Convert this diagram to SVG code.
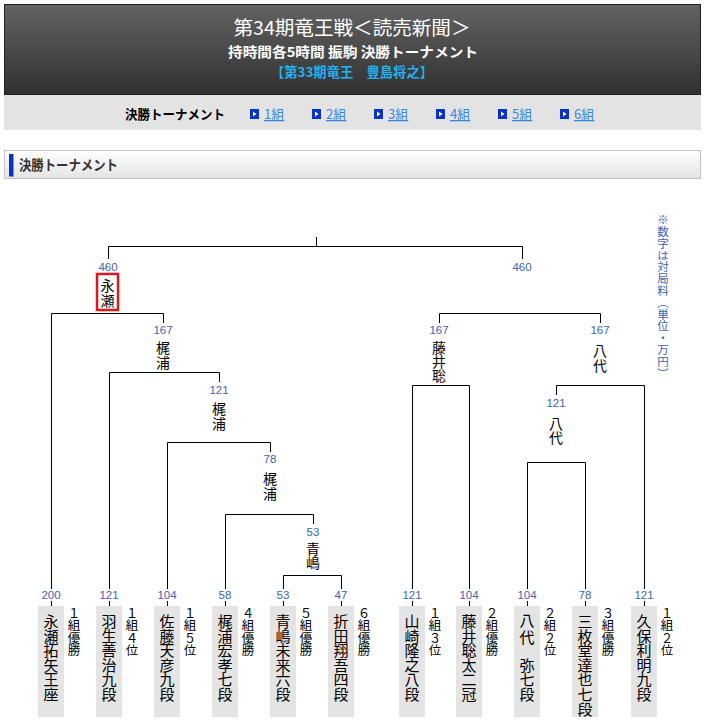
<svg xmlns="http://www.w3.org/2000/svg" width="705" height="726" viewBox="0 0 705 726">
<defs>
<linearGradient id="hd" x1="0" y1="0" x2="0" y2="1"><stop offset="0" stop-color="#636363"/><stop offset="1" stop-color="#303030"/></linearGradient>
<linearGradient id="sh" x1="0" y1="0" x2="0" y2="1"><stop offset="0" stop-color="#ffffff"/><stop offset="1" stop-color="#e4e4e4"/></linearGradient>
</defs>
<style>
.jp{font-family:"Noto Sans CJK JP","Noto Sans CJK SC",sans-serif}
.num{font-family:"Liberation Sans",Arial,sans-serif;font-size:11.5px;fill:#4262b8;text-anchor:middle;dominant-baseline:central}
.ln{fill:none;stroke:#000;stroke-width:1}
.nm{font-family:"Noto Sans CJK JP",sans-serif;font-size:15px;fill:#000;text-anchor:middle;dominant-baseline:central}
.bn{font-family:"Noto Sans CJK JP",sans-serif;font-size:14px;fill:#000;text-anchor:middle;dominant-baseline:central}
.lb{font-family:"Noto Sans CJK JP",sans-serif;font-size:12.5px;fill:#000;text-anchor:middle;dominant-baseline:central}
.box{fill:#e4e4e4}
.nav{font-family:"Noto Sans CJK JP",sans-serif;font-size:13px;fill:#3a86dc;text-decoration:underline}
.ico{fill:#0a32c8}
</style>
<rect width="705" height="726" fill="#fff"/>
<g id="header">
<rect x="4.5" y="4.5" width="696" height="90" fill="url(#hd)" stroke="#222"/>
<text x="352" y="35" class="jp" font-size="19" fill="#fff" text-anchor="middle" textLength="237" lengthAdjust="spacingAndGlyphs">第34期竜王戦＜読売新聞＞</text>
<text x="353" y="57" class="jp" font-size="13.5" font-weight="bold" fill="#fff" text-anchor="middle" textLength="250" lengthAdjust="spacingAndGlyphs">持時間各5時間 振駒 決勝トーナメント</text>
<text x="352" y="77" class="jp" font-size="13.5" font-weight="bold" fill="#22b2f2" text-anchor="middle" textLength="162" lengthAdjust="spacingAndGlyphs">【第33期竜王　豊島将之】</text>
<rect x="4" y="95" width="697" height="35" fill="#e3e3e3"/>
<text x="175" y="119" class="jp" font-size="13" font-weight="bold" fill="#000" text-anchor="middle" textLength="100" lengthAdjust="spacingAndGlyphs">決勝トーナメント</text>
<g id="navlinks">
<rect class="ico" x="250" y="109" width="9" height="10"/><path d="M253 111.5 L256.5 114 L253 116.5Z" fill="#fff"/><text class="nav" x="264" y="119">1組</text>
<rect class="ico" x="312" y="109" width="9" height="10"/><path d="M315 111.5 L318.5 114 L315 116.5Z" fill="#fff"/><text class="nav" x="326" y="119">2組</text>
<rect class="ico" x="374" y="109" width="9" height="10"/><path d="M377 111.5 L380.5 114 L377 116.5Z" fill="#fff"/><text class="nav" x="388" y="119">3組</text>
<rect class="ico" x="436" y="109" width="9" height="10"/><path d="M439 111.5 L442.5 114 L439 116.5Z" fill="#fff"/><text class="nav" x="450" y="119">4組</text>
<rect class="ico" x="498" y="109" width="9" height="10"/><path d="M501 111.5 L504.5 114 L501 116.5Z" fill="#fff"/><text class="nav" x="512" y="119">5組</text>
<rect class="ico" x="560" y="109" width="9" height="10"/><path d="M563 111.5 L566.5 114 L563 116.5Z" fill="#fff"/><text class="nav" x="574" y="119">6組</text>
</g>
</g>
<g id="section">
<rect x="4.5" y="150.5" width="696" height="28" fill="url(#sh)" stroke="#c4c4c4"/>
<rect x="9" y="154" width="4.5" height="22.5" fill="#0a32c8"/>
<text x="19" y="170" class="jp" font-size="14" font-weight="bold" fill="#333" textLength="99" lengthAdjust="spacingAndGlyphs">決勝トーナメント</text>
</g>
<text id="note" x="663" y="214" class="jp" font-size="11.5" fill="#4262b8" style="writing-mode:vertical-rl" letter-spacing="0.3">※数字は対局料（単位・万円）</text>
<g id="connectors">
<path class="ln" d="M316.5 237V246.5M108.5 246.5H522.5M108.5 246.5V259M522.5 246.5V259"/>
<path class="ln" d="M51.5 589V313.5H163.5V323M109.5 589V372.5H219.5V382M167.5 589V442.5H270.5V452M225.5 589V514.5H313.5V524M283.5 589V575.5H341.5V589"/>
<path class="ln" d="M439.5 323V313.5H600.5V323M412.5 589V385.5H469.5V589M556.5 395V385.5H644.5V589M527.5 589V462.5H585.5V589"/>
<path class="ln" d="M51.5 601V606M109.5 601V606M167.5 601V606M225.5 601V606M283.5 601V606M341.5 601V606M412.5 601V606M469.5 601V606M527.5 601V606M585.5 601V606M644.5 601V606"/>
</g>
<g id="bracket-labels">
<text class="num" x="108" y="267">460</text>
<rect x="97" y="274" width="21" height="36" fill="#fff" stroke="#e8141c" stroke-width="2.5"/>
<text class="bn" x="107.5"><tspan x="107.5" y="284.5">永</tspan><tspan x="107.5" y="300">瀬</tspan></text>
<text class="num" x="522" y="267">460</text>
<text class="num" x="163" y="330">167</text>
<text class="bn"><tspan x="163" y="347">梶</tspan><tspan x="163" y="362">浦</tspan></text>
<text class="num" x="219" y="390">121</text>
<text class="bn"><tspan x="219" y="408">梶</tspan><tspan x="219" y="423">浦</tspan></text>
<text class="num" x="270" y="459">78</text>
<text class="bn"><tspan x="270" y="478">梶</tspan><tspan x="270" y="493">浦</tspan></text>
<text class="num" x="313" y="532">53</text>
<text class="bn"><tspan x="313" y="547.5">青</tspan><tspan x="313" y="562">嶋</tspan></text>
<text class="num" x="439" y="330">167</text>
<text class="bn"><tspan x="439" y="347">藤</tspan><tspan x="439" y="361">井</tspan><tspan x="439" y="375">聡</tspan></text>
<text class="num" x="600" y="330">167</text>
<text class="bn"><tspan x="600" y="350">八</tspan><tspan x="600" y="365">代</tspan></text>
<text class="num" x="556" y="403">121</text>
<text class="bn"><tspan x="556" y="423">八</tspan><tspan x="556" y="437">代</tspan></text>
</g>
<g id="p1"><text class="num" x="51" y="595">200</text><rect class="box" x="38" y="606" width="26" height="111"/>
<text class="nm"><tspan x="51" y="620">永</tspan><tspan x="51" y="634.6">瀬</tspan><tspan x="51" y="649.2">拓</tspan><tspan x="51" y="663.8">矢</tspan><tspan x="51" y="678.4">王</tspan><tspan x="51" y="693">座</tspan></text>
<text class="lb"><tspan x="74" y="611.5">１</tspan><tspan x="74" y="624">組</tspan><tspan x="74" y="636.5">優</tspan><tspan x="74" y="649">勝</tspan></text></g>
<g id="p2"><text class="num" x="109" y="595">121</text><rect class="box" x="96" y="606" width="26" height="111"/>
<text class="nm"><tspan x="109" y="620">羽</tspan><tspan x="109" y="634.6">生</tspan><tspan x="109" y="649.2">善</tspan><tspan x="109" y="663.8">治</tspan><tspan x="109" y="678.4">九</tspan><tspan x="109" y="693">段</tspan></text>
<text class="lb"><tspan x="132" y="611.5">１</tspan><tspan x="132" y="624">組</tspan><tspan x="132" y="636.5">４</tspan><tspan x="132" y="649">位</tspan></text></g>
<g id="p3"><text class="num" x="167" y="595">104</text><rect class="box" x="154" y="606" width="26" height="111"/>
<text class="nm"><tspan x="167" y="620">佐</tspan><tspan x="167" y="634.6">藤</tspan><tspan x="167" y="649.2">天</tspan><tspan x="167" y="663.8">彦</tspan><tspan x="167" y="678.4">九</tspan><tspan x="167" y="693">段</tspan></text>
<text class="lb"><tspan x="190" y="611.5">１</tspan><tspan x="190" y="624">組</tspan><tspan x="190" y="636.5">５</tspan><tspan x="190" y="649">位</tspan></text></g>
<g id="p4"><text class="num" x="225" y="595">58</text><rect class="box" x="212" y="606" width="26" height="111"/>
<text class="nm"><tspan x="225" y="620">梶</tspan><tspan x="225" y="634.6">浦</tspan><tspan x="225" y="649.2">宏</tspan><tspan x="225" y="663.8">孝</tspan><tspan x="225" y="678.4">七</tspan><tspan x="225" y="693">段</tspan></text>
<text class="lb"><tspan x="248" y="611.5">４</tspan><tspan x="248" y="624">組</tspan><tspan x="248" y="636.5">優</tspan><tspan x="248" y="649">勝</tspan></text></g>
<g id="p5"><text class="num" x="283" y="595">53</text><rect class="box" x="270" y="606" width="26" height="111"/>
<text class="nm"><tspan x="283" y="620">青</tspan><tspan x="283" y="634.6">嶋</tspan><tspan x="283" y="649.2">未</tspan><tspan x="283" y="663.8">来</tspan><tspan x="283" y="678.4">六</tspan><tspan x="283" y="693">段</tspan></text>
<text class="lb"><tspan x="306" y="611.5">５</tspan><tspan x="306" y="624">組</tspan><tspan x="306" y="636.5">優</tspan><tspan x="306" y="649">勝</tspan></text></g>
<g id="p6"><text class="num" x="341" y="595">47</text><rect class="box" x="328" y="606" width="26" height="111"/>
<text class="nm"><tspan x="341" y="620">折</tspan><tspan x="341" y="634.6">田</tspan><tspan x="341" y="649.2">翔</tspan><tspan x="341" y="663.8">吾</tspan><tspan x="341" y="678.4">四</tspan><tspan x="341" y="693">段</tspan></text>
<text class="lb"><tspan x="364" y="611.5">６</tspan><tspan x="364" y="624">組</tspan><tspan x="364" y="636.5">優</tspan><tspan x="364" y="649">勝</tspan></text></g>
<g id="p7"><text class="num" x="412" y="595">121</text><rect class="box" x="399" y="606" width="26" height="111"/>
<text class="nm"><tspan x="412" y="620">山</tspan><tspan x="412" y="634.6">崎</tspan><tspan x="412" y="649.2">隆</tspan><tspan x="412" y="663.8">之</tspan><tspan x="412" y="678.4">八</tspan><tspan x="412" y="693">段</tspan></text>
<text class="lb"><tspan x="435" y="611.5">１</tspan><tspan x="435" y="624">組</tspan><tspan x="435" y="636.5">３</tspan><tspan x="435" y="649">位</tspan></text></g>
<g id="p8"><text class="num" x="469" y="595">104</text><rect class="box" x="456" y="606" width="26" height="111"/>
<text class="nm"><tspan x="469" y="620">藤</tspan><tspan x="469" y="634.6">井</tspan><tspan x="469" y="649.2">聡</tspan><tspan x="469" y="663.8">太</tspan><tspan x="469" y="678.4">二</tspan><tspan x="469" y="693">冠</tspan></text>
<text class="lb"><tspan x="492" y="611.5">２</tspan><tspan x="492" y="624">組</tspan><tspan x="492" y="636.5">優</tspan><tspan x="492" y="649">勝</tspan></text></g>
<g id="p9"><text class="num" x="527" y="595">104</text><rect class="box" x="514" y="606" width="26" height="111"/>
<text class="nm"><tspan x="527" y="619">八</tspan><tspan x="527" y="635.5">代</tspan><tspan x="527" y="663.8">弥</tspan><tspan x="527" y="678.4">七</tspan><tspan x="527" y="693">段</tspan></text>
<text class="lb"><tspan x="550" y="611.5">２</tspan><tspan x="550" y="624">組</tspan><tspan x="550" y="636.5">２</tspan><tspan x="550" y="649">位</tspan></text></g>
<g id="p10"><text class="num" x="585" y="595">78</text><rect class="box" x="572" y="606" width="26" height="111"/>
<text class="nm"><tspan x="585" y="620">三</tspan><tspan x="585" y="634.6">枚</tspan><tspan x="585" y="649.2">堂</tspan><tspan x="585" y="663.8">達</tspan><tspan x="585" y="678.4">也</tspan><tspan x="585" y="693">七</tspan><tspan x="585" y="707.6">段</tspan></text>
<text class="lb"><tspan x="608" y="611.5">３</tspan><tspan x="608" y="624">組</tspan><tspan x="608" y="636.5">優</tspan><tspan x="608" y="649">勝</tspan></text></g>
<g id="p11"><text class="num" x="644" y="595">121</text><rect class="box" x="631" y="606" width="26" height="111"/>
<text class="nm"><tspan x="644" y="620">久</tspan><tspan x="644" y="634.6">保</tspan><tspan x="644" y="649.2">利</tspan><tspan x="644" y="663.8">明</tspan><tspan x="644" y="678.4">九</tspan><tspan x="644" y="693">段</tspan></text>
<text class="lb"><tspan x="667" y="611.5">１</tspan><tspan x="667" y="624">組</tspan><tspan x="667" y="636.5">２</tspan><tspan x="667" y="649">位</tspan></text></g>
</svg>
